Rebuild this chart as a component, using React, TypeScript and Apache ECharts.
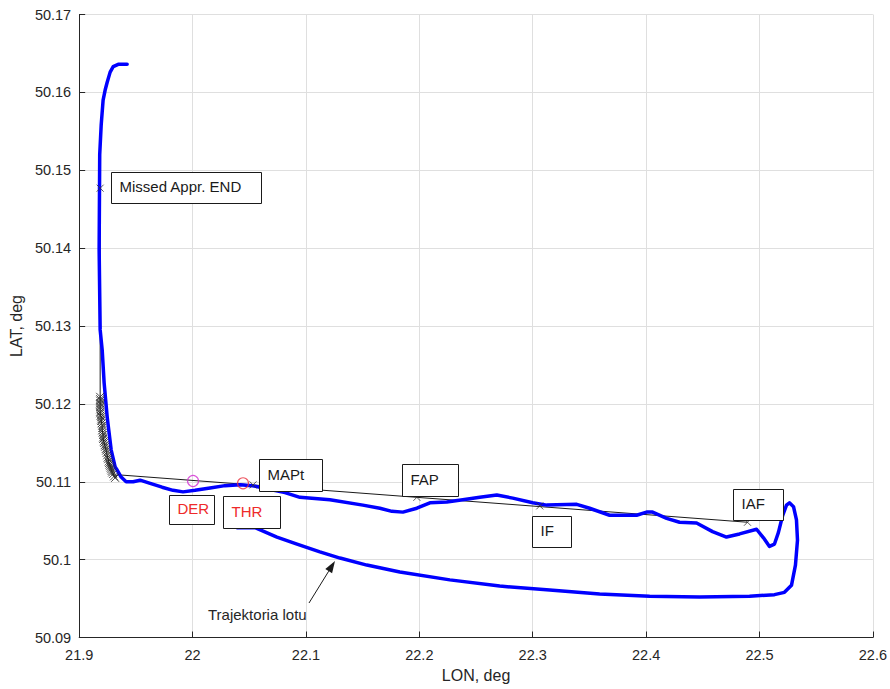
import React, { useEffect, useRef } from 'react';
import * as echarts from 'echarts';

// Flight trajectory [LON, LAT]
const trajectory: [number, number][] = [
  [22.0392, 50.1041], [22.0551, 50.1041], [22.0744, 50.1029], [22.0921, 50.102],
  [22.1123, 50.101], [22.13, 50.1002], [22.1537, 50.0993], [22.1828, 50.0984],
  [22.2269, 50.0974], [22.2709, 50.0966], [22.315, 50.0961], [22.359, 50.0956],
  [22.4031, 50.0953], [22.4471, 50.0952], [22.4912, 50.0953], [22.5132, 50.0955],
  [22.522, 50.0958], [22.5282, 50.0967], [22.5317, 50.0993], [22.5335, 50.1025],
  [22.5326, 50.1051], [22.53, 50.1068], [22.5264, 50.1073], [22.5238, 50.107],
  [22.5203, 50.1056], [22.5167, 50.1035], [22.5132, 50.102], [22.5088, 50.1017],
  [22.5035, 50.1028], [22.4974, 50.1039], [22.4824, 50.1033], [22.4709, 50.1029],
  [22.4586, 50.1036], [22.4445, 50.1047], [22.4295, 50.1048], [22.4181, 50.1053],
  [22.4057, 50.1061], [22.4004, 50.1061], [22.3916, 50.1057], [22.3678, 50.1057],
  [22.3502, 50.1066], [22.3388, 50.1071], [22.3123, 50.107], [22.3, 50.1073],
  [22.2824, 50.1079], [22.2683, 50.1083], [22.2533, 50.108], [22.2383, 50.1077],
  [22.2242, 50.1074], [22.2093, 50.1073], [22.1978, 50.1066], [22.1855, 50.1061],
  [22.1758, 50.1062], [22.1652, 50.1066], [22.1502, 50.107], [22.1211, 50.1077],
  [22.0947, 50.108], [22.0815, 50.1086], [22.0656, 50.1091], [22.0524, 50.1095],
  [22.0419, 50.1096], [22.0286, 50.1095], [22.0154, 50.1092], [22.0022, 50.1089],
  [21.9916, 50.1087], [21.9828, 50.1089], [21.9731, 50.1093], [21.9626, 50.1098],
  [21.9537, 50.1102], [21.9476, 50.11], [21.9414, 50.11], [21.937, 50.1106],
  [21.9335, 50.1115], [21.9317, 50.1119], [21.9282, 50.1141], [21.9247, 50.1183],
  [21.922, 50.1227], [21.9203, 50.1269], [21.9185, 50.1295], [21.9176, 50.1398],
  [21.9181, 50.152], [21.9194, 50.1558], [21.9211, 50.159], [21.9229, 50.1603],
  [21.9247, 50.1613], [21.9273, 50.1626], [21.93, 50.1633], [21.9344, 50.1636],
  [21.9423, 50.1636],
];

// Missed-approach points (dense x markers)
const missedPoints: [number, number][] = [
  [21.9185, 50.1209], [21.9185, 50.1206], [21.9185, 50.1204], [21.9185, 50.1201],
  [21.9185, 50.1199], [21.9185, 50.1196], [21.9185, 50.1193], [21.9185, 50.1190],
  [21.9185, 50.1188], [21.9189, 50.1185], [21.9194, 50.1183], [21.9194, 50.1180],
  [21.9194, 50.1178], [21.9198, 50.1175], [21.9203, 50.1172], [21.9203, 50.1169],
  [21.9203, 50.1166], [21.9207, 50.1163], [21.9211, 50.116], [21.9211, 50.1157],
  [21.9211, 50.1155], [21.9216, 50.1152], [21.922, 50.115], [21.9225, 50.1147],
  [21.9229, 50.1145], [21.9234, 50.1142], [21.9238, 50.114], [21.9242, 50.1137],
  [21.9247, 50.1134], [21.9251, 50.1131], [21.9256, 50.1129], [21.926, 50.1126],
  [21.9264, 50.1124], [21.9268, 50.1122], [21.9273, 50.112], [21.9278, 50.1118],
  [21.9282, 50.1116], [21.9287, 50.1114], [21.9291, 50.1112], [21.93, 50.111],
  [21.9308, 50.1107], [21.9317, 50.1105],
];

// Nominal procedure path
const missedEnd: [number, number] = [21.9185, 50.1477];
const approachStart: [number, number] = [21.9335, 50.1109];
const iaf: [number, number] = [22.4894, 50.1048];

const waypointNames = ['Missed Appr. END', 'MAPt', 'MAPt-1', 'FAP', 'IF', 'IAF'];
const waypointCoords: [number, number][] = [
  missedEnd, [22.0639, 50.1095], [22.0533, 50.1096], [22.1978, 50.108], [22.3062, 50.1069], iaf,
];

const runwayNames = ['DER', 'THR'];
const runwayCoords: [number, number][] = [[22.0004, 50.1101], [22.0445, 50.1098]];
const runwayColors = ['#d22ad2', '#e8303c'];

const xMin = 21.9, xMax = 22.6, xStep = 0.1;
const yMin = 50.09, yMax = 50.17, yStep = 0.01;

const FONT = "'Liberation Sans', Arial, Helvetica, sans-serif";
const AX = '#262626';

const labelBoxes = [
  { text: 'Missed Appr. END', x: 111, y: 172, w: 150, h: 31, color: '#1a1a1a' },
  { text: 'MAPt', x: 259, y: 459, w: 63, h: 32, color: '#1a1a1a' },
  { text: 'FAP', x: 402, y: 464, w: 56, h: 32, color: '#1a1a1a' },
  { text: 'DER', x: 169, y: 495, w: 45, h: 29, color: '#ee2a2a' },
  { text: 'THR', x: 223, y: 496, w: 57, h: 32, color: '#ee2a2a' },
  { text: 'IF', x: 532, y: 516, w: 39, h: 31, color: '#1a1a1a' },
  { text: 'IAF', x: 733, y: 489, w: 50, h: 31, color: '#1a1a1a' },
];

const X_SYMBOL = 'path://M0,0L10,10M10,0L0,10';

export default function App() {
  const ref = useRef<HTMLDivElement>(null);
  useEffect(() => {
    document.body.style.margin = '0';
    const chart = echarts.init(ref.current!, null, { renderer: 'svg' });

    const approachPath: [number, number][] = [missedEnd, ...missedPoints, approachStart, iaf];

    const graphics: any[] = [];
    labelBoxes.forEach((b) => {
      graphics.push({
        type: 'rect',
        shape: { x: b.x + 0.5, y: b.y + 0.5, width: b.w, height: b.h },
        style: { fill: '#fff', stroke: '#1a1a1a', lineWidth: 1 },
        z: 100,
      });
      graphics.push({
        type: 'text',
        x: b.x + 8.5,
        y: b.y + b.h / 2 - 1,
        style: { text: b.text, fill: b.color, font: `15px ${FONT}`, verticalAlign: 'middle', align: 'left' },
        z: 101,
      });
    });
    // arrow annotation
    graphics.push({
      type: 'line',
      shape: { x1: 309, y1: 603, x2: 328.7, y2: 571.2 },
      style: { stroke: '#1a1a1a', lineWidth: 1 },
      z: 100,
    });
    graphics.push({
      type: 'polygon',
      shape: { points: [[335, 561], [332.1, 573.3], [325.3, 569.1]] },
      style: { fill: '#1a1a1a' },
      z: 100,
    });
    graphics.push({
      type: 'text',
      x: 208,
      y: 614,
      style: { text: 'Trajektoria lotu', fill: AX, font: `15px ${FONT}`, verticalAlign: 'middle', align: 'left' },
      z: 100,
    });

    chart.setOption({
      animation: false,
      backgroundColor: '#fff',
      grid: { left: 79, top: 14.5, right: 16.5, bottom: 51.5, containLabel: false },
      xAxis: {
        type: 'value',
        min: xMin,
        max: xMax,
        interval: xStep,
        name: 'LON, deg',
        nameLocation: 'middle',
        nameGap: 30,
        nameTextStyle: { color: AX, fontSize: 16, fontFamily: FONT },
        axisLine: { show: true, onZero: false, lineStyle: { color: AX, width: 1 } },
        axisTick: { show: true, inside: true, length: 6, lineStyle: { color: AX } },
        axisLabel: { color: AX, fontSize: 14.5, fontFamily: FONT, margin: 10 },
        splitLine: { show: true, lineStyle: { color: '#dfdfdf', width: 1 } },
      },
      yAxis: {
        type: 'value',
        min: yMin,
        max: yMax,
        interval: yStep,
        name: 'LAT, deg',
        nameLocation: 'middle',
        nameGap: 52,
        nameTextStyle: { color: AX, fontSize: 16, fontFamily: FONT },
        axisLine: { show: true, onZero: false, lineStyle: { color: AX, width: 1 } },
        axisTick: { show: true, inside: true, length: 6, lineStyle: { color: AX } },
        axisLabel: { color: AX, fontSize: 14.5, fontFamily: FONT, margin: 8 },
        splitLine: { show: true, lineStyle: { color: '#dfdfdf', width: 1 } },
      },
      series: [
        {
          type: 'line',
          data: approachPath,
          showSymbol: false,
          lineStyle: { color: '#1a1a1a', width: 1 },
          z: 2,
        },
        {
          type: 'line',
          data: trajectory,
          showSymbol: false,
          smooth: false,
          lineStyle: { color: '#0000ff', width: 3.5, join: 'round', cap: 'round' },
          z: 3,
        },
        {
          type: 'scatter',
          data: missedPoints,
          symbol: X_SYMBOL,
          symbolSize: 8,
          itemStyle: { color: 'rgba(0,0,0,0)', borderColor: '#222', borderWidth: 1 },
          z: 4,
        },
        {
          type: 'scatter',
          data: waypointCoords.map((c, i) => ({ name: waypointNames[i], value: c })),
          symbol: X_SYMBOL,
          symbolSize: 7,
          itemStyle: { color: 'rgba(0,0,0,0)', borderColor: '#333', borderWidth: 1 },
          z: 5,
        },
        {
          type: 'scatter',
          data: runwayCoords.map((c, i) => ({
            name: runwayNames[i],
            value: c,
            itemStyle: { color: 'rgba(0,0,0,0)', borderColor: runwayColors[i], borderWidth: 1.2 },
          })),
          symbol: 'circle',
          symbolSize: 11,
          z: 5,
        },
      ],
      graphic: graphics,
    });
    return () => chart.dispose();
  }, []);
  return <div ref={ref} style={{ position: 'absolute', left: 0, top: 0, width: 890, height: 689 }} />;
}
